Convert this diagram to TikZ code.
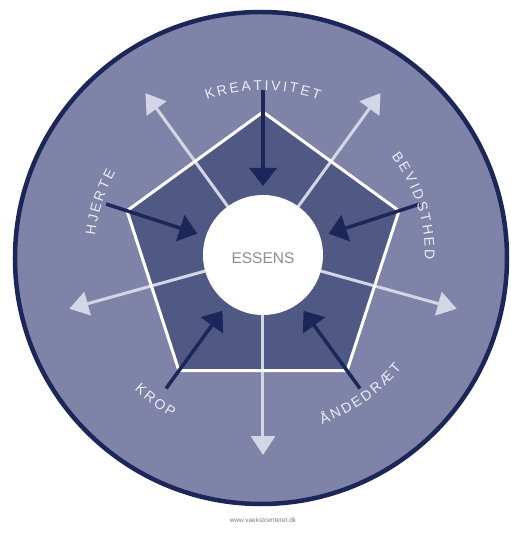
\documentclass[tikz,border=0pt]{standalone}
\usepackage{fontspec}
\setmainfont{Liberation Sans}
\usetikzlibrary{arrows.meta}
\definecolor{outerfill}{RGB}{127,131,168}
\definecolor{pentfill}{RGB}{80,88,132}
\definecolor{navy}{RGB}{28,38,88}
\definecolor{lightarr}{RGB}{212,214,230}
\definecolor{labc}{RGB}{236,237,246}
\definecolor{essc}{RGB}{140,141,152}
\definecolor{urlc}{RGB}{125,125,130}
\newcommand\myfs{14}
\newcommand\mysp{2.4}
% #1 name prefix, #2 baseline radius, #3 centre angle, #4 direction (+1 ccw, -1 cw), #5 list char/width(em)
\newcommand\myarctext[5]{%
  \gdef\arcL{0}%
  \foreach \ch/\w in {#5}{\pgfmathsetmacro\tmp{\arcL+\w*\myfs+\mysp}\xdef\arcL{\tmp}}%
  \pgfmathsetmacro\tmp{\arcL-\mysp}\xdef\arcL{\tmp}%
  \gdef\arcP{0}%
  \foreach \ch/\w [count=\i] in {#5}{%
    \pgfmathsetmacro\pc{\arcP+\w*\myfs/2-\arcL/2}%
    \pgfmathsetmacro\ang{#3+(#4)*\pc/#2*57.29578}%
    \pgfmathsetmacro\rot{\ang+(#4)*90}%
    \node[lbl, rotate=\rot] (#1\i) at (\ang:#2) {\ch};
    \pgfmathsetmacro\tmp{\arcP+\w*\myfs+\mysp}\xdef\arcP{\tmp}}%
}
\begin{document}
\begin{tikzpicture}[x=1pt,y=1pt,
  lbl/.style={text=labc, font=\fontsize{14}{14}\selectfont, inner sep=0pt, anchor=base},
  lightarrow/.style={draw=lightarr, line width=3pt, -{Triangle[width=24pt,length=19pt]}},
  darkarrow/.style={draw=navy, line width=3.5pt, -{Triangle[width=27pt,length=18pt]}},
  pentedge/.style={draw=white, line width=3pt}]
\useasboundingbox (-263,-286) rectangle (248,255);
\fill[white] (-263,-286) rectangle (248,255);
% outer disc
\node[circle, fill=outerfill, draw=navy, line width=4.5pt, minimum size=492pt, inner sep=0pt] (disc) at (-2,-3) {};
% pentagon fill
\coordinate (c) at (0,0);
\foreach \a [count=\k] in {90,162,234,306,18} \coordinate (v\k) at (\a:143);
\fill[pentfill] (v1) -- (v2) -- (v3) -- (v4) -- (v5) -- cycle;
% light outward arrows
\foreach \a/\r [count=\k] in {126/200,195.5/201,270/200,344.5/201,54/200} {
  \coordinate (o\k) at (\a:\r);
  \draw[lightarrow] (c) -- (o\k);
}
% pentagon edges
\draw[pentedge] (v1) -- (v2) -- (v3) -- (v4) -- (v5) -- cycle;
% centre
\node[circle, fill=white, minimum size=120pt, inner sep=0pt] (essens) at (c) {};
\node[text=essc, font=\fontsize{15.5}{15.5}\selectfont] (esst) at (0,-3) {ESSENS};
% dark inward arrows
\foreach \a [count=\k] in {90,162,234,306,18} {
  \coordinate (s\k) at (\a:165);
  \coordinate (e\k) at (\a:69);
  \draw[darkarrow] (s\k) -- (e\k);
}
% labels
\myarctext{kr}{165}{90}{-1}{K/0.667,R/0.722,E/0.667,A/0.667,T/0.611,I/0.278,V/0.667,I/0.278,T/0.611,E/0.667,T/0.611}
\myarctext{bv}{162}{18}{-1}{B/0.667,E/0.667,V/0.667,I/0.278,D/0.722,S/0.667,T/0.611,H/0.722,E/0.667,D/0.722}
\myarctext{hj}{169}{162}{-1}{H/0.722,J/0.5,E/0.667,R/0.722,T/0.611,E/0.667}
\myarctext{kp}{186}{233.5}{1}{K/0.667,R/0.722,O/0.778,P/0.667}
\myarctext{an}{179}{305}{1}{Å/0.667,N/0.722,D/0.722,E/0.667,D/0.722,R/0.722,Æ/1.0,T/0.611}
% url
\node[text=urlc, font=\fontsize{6.5}{6.5}\selectfont] (url) at (0,-265) {www.vaekstcenteret.dk};
\end{tikzpicture}
\end{document}
